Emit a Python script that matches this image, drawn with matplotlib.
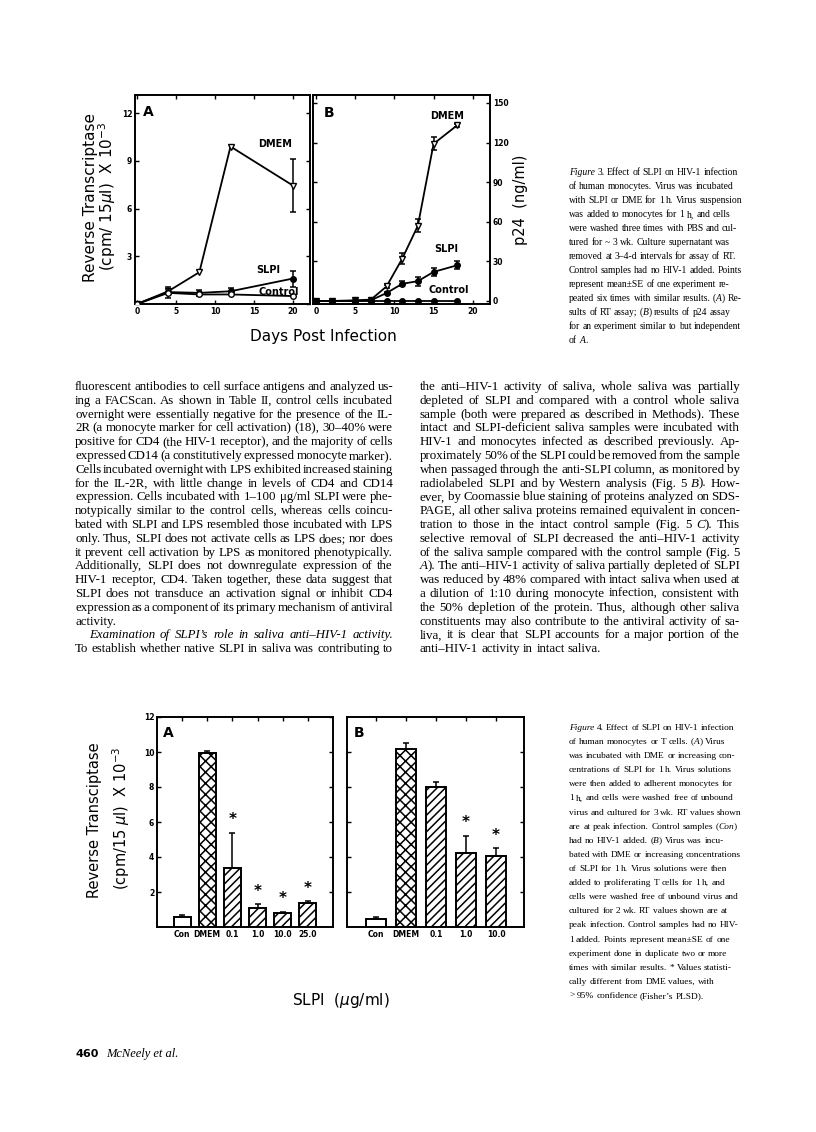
import numpy as np
import matplotlib
matplotlib.use('Agg')
import matplotlib.pyplot as plt

# Figure 3A: reverse transcriptase (cpm/15ul x 10^-3) vs days post infection
rt_days = [0, 4, 8, 12, 20]
rt_dmem = [0, 0.8, 2.0, 9.9, 7.45]
rt_dmem_err = [0, 0, 0, 0, 1.65]
rt_slpi = [0, 0.75, 0.7, 0.8, 1.6]
rt_slpi_err = [0, 0.35, 0.2, 0.2, 0.5]
rt_ctrl = [0, 0.7, 0.6, 0.6, 0.5]

# Figure 3B: p24 (ng/ml) vs days post infection
p24_days = [0, 2, 5, 7, 9, 11, 13, 15, 18]
p24_dmem = [0, 0, 0.5, 1, 11, 32, 57, 119, 133]
p24_dmem_err = [0, 0, 0, 0, 1, 4, 5, 5, 1]
p24_slpi = [0, 0, 0, 0.5, 6, 13, 15, 22, 27]
p24_slpi_err = [0, 0, 0, 0, 1, 2, 3.5, 3, 3]
p24_ctrl = [0, 0, 0, 0, 0, 0, 0, 0, 0]

# Figure 4A: monocytes, RT at peak infection
mono_labels = ['Con', 'DMEM', '0.1', '1.0', '10.0', '25.0']
mono_rt = [0.6, 9.95, 3.35, 1.1, 0.8, 1.4]
mono_err = [0.08, 0.08, 2.05, 0.2, 0.05, 0.07]
mono_sig = [False, False, True, True, True, True]

# Figure 4B: T cells, RT at peak infection
tcell_labels = ['Con', 'DMEM', '0.1', '1.0', '10.0']
tcell_rt = [0.45, 10.15, 8.0, 4.25, 4.05]
tcell_err = [0.1, 0.35, 0.3, 0.95, 0.45]
tcell_sig = [False, False, False, True, True]

# page text ('_word_' = italic part, '^' = indented italic run-in head, '|' = last line of paragraph)
caption3 = [
    "_Figure_ 3. Effect of SLPI on HIV-1 infection",
    "of human monocytes. Virus was incubated",
    "with SLPI or DME for 1 h. Virus suspension",
    "was added to monocytes for 1 h, and cells",
    "were washed three times with PBS and cul-",
    "tured for ~ 3 wk. Culture supernatant was",
    "removed at 3–4-d intervals for assay of RT.",
    "Control samples had no HIV-1 added. Points",
    "represent mean±SE of one experiment re-",
    "peated six times with similar results. (_A_) Re-",
    "sults of RT assay; (_B_) results of p24 assay",
    "for an experiment similar to but independent",
    "of _A_.",
]

left_col = [
    "fluorescent antibodies to cell surface antigens and analyzed us-",
    "ing a FACScan. As shown in Table II, control cells incubated",
    "overnight were essentially negative for the presence of the IL-",
    "2R (a monocyte marker for cell activation) (18), 30–40% were",
    "positive for CD4 (the HIV-1 receptor), and the majority of cells",
    "expressed CD14 (a constitutively expressed monocyte marker).",
    "Cells incubated overnight with LPS exhibited increased staining",
    "for the IL-2R, with little change in levels of CD4 and CD14",
    "expression. Cells incubated with 1–100 μg/ml SLPI were phe-",
    "notypically similar to the control cells, whereas cells coincu-",
    "bated with SLPI and LPS resembled those incubated with LPS",
    "only. Thus, SLPI does not activate cells as LPS does; nor does",
    "it prevent cell activation by LPS as monitored phenotypically.",
    "Additionally, SLPI does not downregulate expression of the",
    "HIV-1 receptor, CD4. Taken together, these data suggest that",
    "SLPI does not transduce an activation signal or inhibit CD4",
    "expression as a component of its primary mechanism of antiviral",
    "activity.|",
    "^Examination of SLPI’s role in saliva anti–HIV-1 activity.",
    "To establish whether native SLPI in saliva was contributing to",
]

right_col = [
    "the anti–HIV-1 activity of saliva, whole saliva was partially",
    "depleted of SLPI and compared with a control whole saliva",
    "sample (both were prepared as described in Methods). These",
    "intact and SLPI-deficient saliva samples were incubated with",
    "HIV-1 and monocytes infected as described previously. Ap-",
    "proximately 50% of the SLPI could be removed from the sample",
    "when passaged through the anti-SLPI column, as monitored by",
    "radiolabeled SLPI and by Western analysis (Fig. 5 _B_). How-",
    "ever, by Coomassie blue staining of proteins analyzed on SDS-",
    "PAGE, all other saliva proteins remained equivalent in concen-",
    "tration to those in the intact control sample (Fig. 5 _C_). This",
    "selective removal of SLPI decreased the anti–HIV-1 activity",
    "of the saliva sample compared with the control sample (Fig. 5",
    "_A_). The anti–HIV-1 activity of saliva partially depleted of SLPI",
    "was reduced by 48% compared with intact saliva when used at",
    "a dilution of 1:10 during monocyte infection, consistent with",
    "the 50% depletion of the protein. Thus, although other saliva",
    "constituents may also contribute to the antiviral activity of sa-",
    "liva, it is clear that SLPI accounts for a major portion of the",
    "anti–HIV-1 activity in intact saliva.|",
]

caption4 = [
    "_Figure_ 4. Effect of SLPI on HIV-1 infection",
    "of human monocytes or T cells. (_A_) Virus",
    "was incubated with DME or increasing con-",
    "centrations of SLPI for 1 h. Virus solutions",
    "were then added to adherent monocytes for",
    "1 h, and cells were washed free of unbound",
    "virus and cultured for 3 wk. RT values shown",
    "are at peak infection. Control samples (_Con_)",
    "had no HIV-1 added. (_B_) Virus was incu-",
    "bated with DME or increasing concentrations",
    "of SLPI for 1 h. Virus solutions were then",
    "added to proliferating T cells for 1 h, and",
    "cells were washed free of unbound virus and",
    "cultured for 2 wk. RT values shown are at",
    "peak infection. Control samples had no HIV-",
    "1 added. Points represent mean±SE of one",
    "experiment done in duplicate two or more",
    "times with similar results. * Values statisti-",
    "cally different from DME values, with",
    "> 95% confidence (Fisher’s PLSD).",
]

SANS = 'DejaVu Sans'
SERIF = 'Liberation Serif'
W, H = 816, 1132

plt.rcParams['hatch.linewidth'] = 1.1
plt.rcParams['mathtext.fontset'] = 'dejavusans'
fig = plt.figure(figsize=(W / 100, H / 100), dpi=100)
fig.patch.set_facecolor('white')
renderer = fig.canvas.get_renderer()


def fpos(x, y):
    return x / W, 1 - y / H


def axes_px(left, top, right, bottom):
    return fig.add_axes([left / W, 1 - bottom / H, (right - left) / W, (bottom - top) / H])


def width_of(s, size, **kw):
    t = fig.text(0, 0, s, fontsize=size, **kw)
    w = t.get_window_extent(renderer).width
    t.remove()
    return w


def label(x, y, s, size, rotation=0):
    fig.text(*fpos(x, y), s, fontsize=size, rotation=rotation, family=SANS,
             ha='center', va='center')


def split_words(line, italic=False):
    words = []
    for w in line.split(' '):
        if '_' in w:
            pre, mid, post = w.split('_')
            words.append([(pre, 'normal'), (mid, 'italic'), (post, 'normal')])
        else:
            words.append([(w, 'italic' if italic else 'normal')])
    return words


def seg_width(word, size):
    return sum(width_of(s, size, family=SERIF, style=st) for s, st in word if s)


def space_of(size):
    return width_of('a a', size, family=SERIF) - width_of('aa', size, family=SERIF)


def typeset(lines, left, right, base, step, justify, indent=14, boost=1.0):
    # size from the widest natural word-by-word line at 10 pt
    sp10 = space_of(10)
    nat = []
    for ln in lines:
        if ln.endswith('|') or ln.startswith('^'):
            continue
        words = split_words(ln)
        nat.append(sum(seg_width(w, 10) for w in words) + sp10 * (len(words) - 1))
    size = 10 * (right - left) / max(nat) * boost
    space = space_of(size)
    for i, ln in enumerate(lines):
        head = ln.startswith('^')
        x0 = left + (indent if head else 0)
        ragged = ln.endswith('|') or not justify
        words = split_words(ln.lstrip('^').rstrip('|'), italic=head)
        widths = [seg_width(w, size) for w in words]
        gap = space
        if not ragged and len(words) > 1:
            gap = max((right - x0 - sum(widths)) / (len(words) - 1), 0.3 * space)
        x = x0
        y = base + i * step
        for word, wd in zip(words, widths):
            xx = x
            for s, st in word:
                if not s:
                    continue
                fig.text(*fpos(xx, y), s, fontsize=size, family=SERIF, style=st,
                         ha='left', va='baseline')
                xx += width_of(s, size, family=SERIF, style=st)
            x += wd + gap


def style_ticks(ax, size=5.5):
    ax.tick_params(direction='in', length=3, width=1, labelsize=size, pad=2,
                   top=True, right=True)
    for lbl in ax.get_xticklabels() + ax.get_yticklabels():
        lbl.set_fontweight('bold')
        lbl.set_family(SANS)
    for sp in ax.spines.values():
        sp.set_linewidth(1.4)


def err_only(ax, x, y, e):
    x, y, e = np.asarray(x), np.asarray(y), np.asarray(e)
    m = e > 0
    ax.errorbar(x[m], y[m], yerr=e[m], fmt='none', ecolor='black',
                elinewidth=1.1, capsize=2.5, capthick=1.1, zorder=2)


line_kw = dict(color='black', lw=1.3, zorder=3)
note_kw = dict(fontsize=7, fontweight='bold', family=SANS, ha='center', va='center')

# ---------------- Figure 3A ----------------
ax = axes_px(135, 95, 310, 304)
ax.plot(rt_days, rt_dmem, marker='v', ms=5, mfc='white', mec='black', mew=1, **line_kw)
ax.plot(rt_days, rt_slpi, marker='o', ms=4, mfc='black', mec='black', **line_kw)
ax.plot(rt_days, rt_ctrl, marker='o', ms=4, mfc='white', mec='black', mew=1, **line_kw)
err_only(ax, rt_days, rt_dmem, rt_dmem_err)
err_only(ax, rt_days, rt_slpi, rt_slpi_err)
ax.set_xlim(-0.26, 22.2)
ax.set_ylim(0, 13.14)
ax.set_xticks([0, 5, 10, 15, 20])
ax.set_yticks([0, 3, 6, 9, 12])
ax.set_yticklabels(['', '3', '6', '9', '12'])
style_ticks(ax)
ax.text(0.7, 12.1, 'A', fontsize=10, fontweight='bold', family=SANS, va='center')
ax.text(17.7, 10.05, 'DMEM', **note_kw)
ax.text(16.9, 2.15, 'SLPI', **note_kw)
ax.text(18.2, 0.75, 'Control', **note_kw)

# ---------------- Figure 3B ----------------
ax = axes_px(313, 95, 490, 304)
ax.plot(p24_days, p24_dmem, marker='v', ms=5, mfc='white', mec='black', mew=1, **line_kw)
ax.plot(p24_days, p24_slpi, marker='o', ms=4, mfc='black', mec='black', **line_kw)
ax.plot(p24_days, p24_ctrl, marker='o', ms=4, mfc='black', mec='black', **line_kw)
err_only(ax, p24_days, p24_dmem, p24_dmem_err)
err_only(ax, p24_days, p24_slpi, p24_slpi_err)
ax.set_xlim(-0.38, 22.2)
ax.set_ylim(-2.3, 156)
ax.set_xticks([0, 5, 10, 15, 20])
ax.set_yticks([0, 30, 60, 90, 120, 150])
ax.yaxis.tick_right()
style_ticks(ax)
ax.tick_params(left=True, labelleft=False, labelright=True)
ax.text(1.0, 142, 'B', fontsize=10, fontweight='bold', family=SANS, va='center')
ax.text(16.7, 140, 'DMEM', **note_kw)
ax.text(16.6, 39, 'SLPI', **note_kw)
ax.text(17.0, 8, 'Control', **note_kw)

label(90, 198, 'Reverse Transcriptase', 11, rotation=90)
label(107, 196, r'(cpm/ 15$\mu$l)  X 10$^{-3}$', 11, rotation=90)
label(521, 200, 'p24  (ng/ml)', 10.5, rotation=90)
label(323, 337, 'Days Post Infection', 11)

# ---------------- Figure 4 ----------------
bar_kw = dict(color='white', edgecolor='black', linewidth=1.4, zorder=2)


def bar_panel(ax, labels, vals, errs, sig, width):
    x = np.arange(len(labels))
    bars = ax.bar(x, vals, width=width, **bar_kw)
    for i, b in enumerate(bars):
        b.set_hatch('' if i == 0 else ('xxx' if i == 1 else '////'))
    ax.errorbar(x, vals, yerr=[np.zeros(len(x)), errs], fmt='none', ecolor='black',
                elinewidth=1.1, capsize=2.5, capthick=1.1, zorder=3)
    for xi, v, e, s in zip(x, vals, errs, sig):
        if s:
            ax.text(xi, v + e + 0.75, '*', ha='center', va='center', fontsize=11,
                    fontweight='bold', family=SANS)
    ax.set_xticks(x)
    ax.set_xticklabels(labels)
    ax.set_ylim(0, 12)


ax = axes_px(157, 717, 333, 927)
bar_panel(ax, mono_labels, mono_rt, mono_err, mono_sig, 0.68)
ax.set_xlim(-1.0, 6.0)
ax.set_yticks([2, 4, 6, 8, 10, 12])
style_ticks(ax, 5.5)
ax.tick_params(axis='x', bottom=False)
ax.text(-0.75, 11.1, 'A', fontsize=10, fontweight='bold', family=SANS, va='center')

ax = axes_px(347, 717, 524, 927)
bar_panel(ax, tcell_labels, tcell_rt, tcell_err, tcell_sig, 0.67)
ax.set_xlim(-0.97, 4.93)
ax.set_yticks([2, 4, 6, 8, 10])
style_ticks(ax, 5.5)
ax.tick_params(axis='x', bottom=False)
ax.tick_params(axis='y', labelleft=False)
ax.text(-0.75, 11.1, 'B', fontsize=10, fontweight='bold', family=SANS, va='center')

label(95, 820, 'Reverse Transciptase', 10.5, rotation=90)
label(121, 818, r'(cpm/15 $\mu$l)  X 10$^{-3}$', 10.5, rotation=90)
label(341, 1000, r'SLPI  ($\mu$g/ml)', 11)

# ---------------- page text ----------------
typeset(caption3, 569, 741, 175, 14.0, justify=False)
typeset(left_col, 75, 393, 390, 13.8, justify=True, boost=1.05)
typeset(right_col, 420, 740, 390, 13.8, justify=True, boost=1.05)
typeset(caption4, 569, 741, 730, 14.1, justify=False)

fig.text(*fpos(75, 1057), '460', fontsize=8, fontweight='bold', family=SANS,
         ha='left', va='baseline')
fig.text(*fpos(106, 1057), 'McNeely et al.', fontsize=9, style='italic', family=SERIF,
         ha='left', va='baseline')

fig.savefig('out.png', dpi=100, facecolor='white')
